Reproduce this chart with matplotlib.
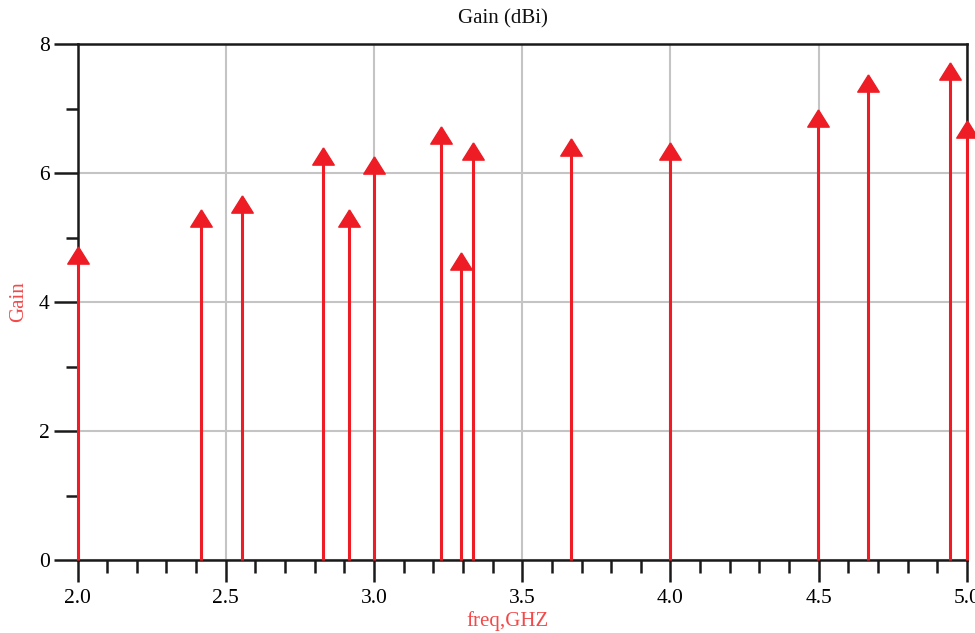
import matplotlib.pyplot as plt
import numpy as np
from matplotlib.ticker import MultipleLocator

freq = [2.0, 2.418, 2.554, 2.829, 2.917, 3.0, 3.225, 3.294, 3.333, 3.663,
        4.0, 4.497, 4.666, 4.944, 5.0]
gain = [4.73, 5.31, 5.52, 6.26, 5.30, 6.12, 6.59, 4.63, 6.34, 6.41,
        6.34, 6.85, 7.40, 7.58, 6.68]

red = '#ee1c24'
label_red = '#f24a4a'

plt.rcParams['font.family'] = ['Liberation Serif', 'DejaVu Serif']

fig = plt.figure(figsize=(9.75, 6.33), dpi=100)
ax = fig.add_axes([77.5 / 975, 1 - 560 / 633, (967 - 77.5) / 975, (560 - 44) / 633])

ax.set_xlim(2.0, 5.0)
ax.set_ylim(0, 8)
ax.xaxis.set_major_locator(MultipleLocator(0.5))
ax.xaxis.set_minor_locator(MultipleLocator(0.1))
ax.yaxis.set_major_locator(MultipleLocator(2))
ax.yaxis.set_minor_locator(MultipleLocator(1))
ax.xaxis.set_major_formatter(plt.FormatStrFormatter('%.1f'))

ax.grid(True, which='major', color='#c4c4c4', linewidth=1.5, zorder=0)
ax.set_axisbelow(True)

ax.vlines(freq, 0, gain, color=red, linewidth=2.2, zorder=3, clip_on=False)
tri = [(0, 0.8), (-1, -0.8), (1, -0.8), (0, 0.8)]
ax.plot(freq, gain, linestyle='none', marker=tri, markersize=15.5,
        color=red, zorder=4, clip_on=False)

for s in ax.spines.values():
    s.set_linewidth(1.8)
    s.set_color('#1a1a1a')

ax.tick_params(axis='x', which='major', direction='out', length=16, width=1.8,
               labelsize=15.5, pad=5, color='#1a1a1a')
ax.tick_params(axis='x', which='minor', direction='out', length=9.5, width=1.8,
               color='#1a1a1a')
ax.tick_params(axis='y', which='major', direction='out', length=17, width=1.8,
               labelsize=15.5, pad=3, color='#1a1a1a')
ax.tick_params(axis='y', which='minor', direction='out', length=8.5, width=1.8,
               color='#1a1a1a')

ax.set_ylabel('Gain', color=label_red, fontsize=15, labelpad=8)
fig.text(508 / 975, 1 - 621 / 633, 'freq,GHZ', color=label_red, fontsize=15,
         ha='center', va='center')
fig.text(503 / 975, 1 - 19 / 633, 'Gain (dBi)', color='#111111', fontsize=15,
         ha='center', va='center')

fig.savefig('out.png', dpi=100)
